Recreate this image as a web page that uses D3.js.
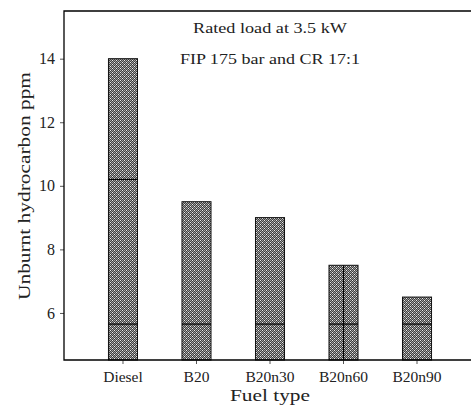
<!DOCTYPE html>
<html><head><meta charset="utf-8">
<script src="https://cdn.jsdelivr.net/npm/d3@7"></script>
<style>body{margin:0;background:#fff}svg{display:block}</style>
</head><body>
<svg id="c" width="471" height="409"></svg>
<script>
const categories = ["Diesel", "B20", "B20n30", "B20n60", "B20n90"];
const values = [14.0, 9.5, 9.0, 7.5, 6.5];
const innerLines = [[5.65, 10.2], [5.65], [5.65], [5.65], [5.65]];
const splitBars = ["B20n60"];
const yTicks = [6, 8, 10, 12, 14];
const notes = ["Rated load at 3.5 kW", "FIP 175 bar and CR 17:1"];

const svg = d3.select("#c");
const L = 64, T = 11, B = 360, R = 476;
const x = d3.scaleBand().domain(categories).range([L, R]).paddingInner(0.605).paddingOuter(0.605);
const y = d3.scaleLinear().domain([4.52, 15.5]).range([B, T]);
const font = "Liberation Serif, DejaVu Serif, serif";

// pattern: fine checker with white diamond lattice
const defs = svg.append("defs");
const p = defs.append("pattern").attr("id","hatch").attr("patternUnits","userSpaceOnUse")
  .attr("width",8).attr("height",8);
p.append("rect").attr("width",8).attr("height",8).attr("fill","#404040");
for (let i=0;i<8;i++) for (let j=0;j<8;j++) {
  if ((i+j)%2===0) p.append("rect").attr("x",i).attr("y",j).attr("width",1).attr("height",1).attr("fill","#a0a0a0");
}
[[0,0],[2,2],[4,4],[6,6],[6,2],[2,6],[4,0],[0,4]].forEach(([a,b]) => {
  p.append("rect").attr("x",a).attr("y",b).attr("width",1).attr("height",1).attr("fill","#ececec");
});

// bars
svg.append("g").selectAll("rect").data(categories).join("rect")
  .attr("x", d => x(d)).attr("width", x.bandwidth())
  .attr("y", (d,i) => y(values[i])).attr("height", (d,i) => B - y(values[i]))
  .attr("fill","url(#hatch)").attr("stroke","#111").attr("stroke-width",1);

// inner segment lines
categories.forEach((c,i) => {
  innerLines[i].forEach(v => {
    svg.append("line").attr("x1", x(c)).attr("x2", x(c)+x.bandwidth())
      .attr("y1", y(v)).attr("y2", y(v)).attr("stroke","#000").attr("stroke-width",1.2);
  });
  if (splitBars.includes(c)) {
    svg.append("line").attr("x1", x(c)+x.bandwidth()/2).attr("x2", x(c)+x.bandwidth()/2)
      .attr("y1", y(values[i])).attr("y2", B).attr("stroke","#000").attr("stroke-width",1.2);
  }
});

// axes
const ya = svg.append("g").attr("transform",`translate(${L},0)`)
  .call(d3.axisLeft(y).tickValues(yTicks).tickSize(4).tickPadding(5).tickFormat(d3.format("d")));
ya.select(".domain").remove();
ya.selectAll("text").attr("font-family",font).attr("font-size",16).attr("fill","#222");
ya.selectAll("line").attr("stroke","#555");

const xa = svg.append("g").attr("transform",`translate(0,${B})`)
  .call(d3.axisBottom(x).tickSize(4).tickPadding(7));
xa.select(".domain").remove();
xa.selectAll("text").attr("font-family",font).attr("font-size",15.5).attr("fill","#222");
xa.selectAll("line").attr("stroke","#555");

// frame (left, top, bottom)
svg.append("path").attr("d",`M${R},${T}H${L}V${B}H${R}`).attr("fill","none").attr("stroke","#000").attr("stroke-width",1.3);

// notes
svg.append("text").attr("x",270).attr("y",33).attr("text-anchor","middle")
  .attr("font-family",font).attr("font-size",15.5).attr("fill","#222")
  .attr("textLength",154).attr("lengthAdjust","spacingAndGlyphs").text(notes[0]);
svg.append("text").attr("x",270).attr("y",64).attr("text-anchor","middle")
  .attr("font-family",font).attr("font-size",15.5).attr("fill","#222")
  .attr("textLength",180).attr("lengthAdjust","spacingAndGlyphs").text(notes[1]);

// labels
svg.append("text").attr("x",270).attr("y",401).attr("text-anchor","middle")
  .attr("font-family",font).attr("font-size",16.5).attr("fill","#222")
  .attr("textLength",80).attr("lengthAdjust","spacingAndGlyphs").text("Fuel type");
svg.append("text").attr("transform","translate(30,186) rotate(-90)").attr("text-anchor","middle")
  .attr("font-family",font).attr("font-size",17.5).attr("fill","#222")
  .attr("textLength",228).attr("lengthAdjust","spacingAndGlyphs").text("Unburnt hydrocarbon ppm");
</script>
</body></html>
